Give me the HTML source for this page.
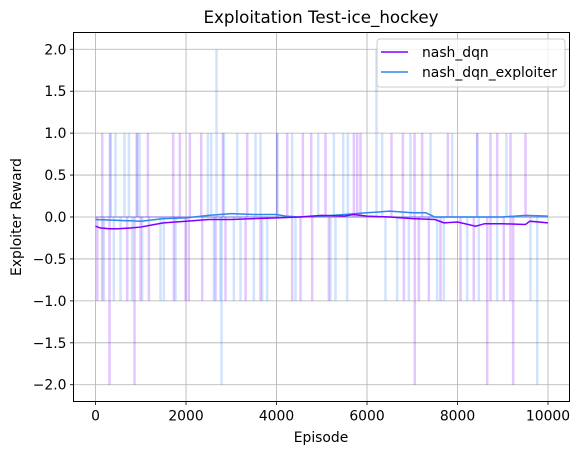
<!DOCTYPE html>
<html><head><meta charset="utf-8"><style>
body{margin:0;background:#fff;}
svg text{font-family:"DejaVu Sans","Liberation Sans",sans-serif;fill:#000;}
</style></head><body>
<svg id="chart" width="579" height="455" viewBox="0 0 579 455" xmlns="http://www.w3.org/2000/svg">
<rect width="579" height="455" fill="#fff"/>
<g id="grid"></g>
<g id="raw"></g>
<g id="smooth"></g>
<rect x="73.5" y="32.5" width="496" height="369" fill="none" stroke="#000" stroke-width="1"/>
<g id="ticks"></g>
<text x="321" y="23" font-size="16.7" text-anchor="middle">Exploitation Test-ice_hockey</text>
<text x="321" y="442" font-size="13.9" text-anchor="middle">Episode</text>
<text x="21" y="217" font-size="13.9" text-anchor="middle" transform="rotate(-90 21 217)">Exploiter Reward</text>
<g>
<rect x="377" y="39" width="188" height="48" rx="3" fill="#fff" fill-opacity="0.8" stroke="#ccc"/>
<line x1="381" y1="52" x2="408" y2="52" stroke="#8000ff" stroke-width="1.5"/>
<text x="422" y="57" font-size="13.9">nash_dqn</text>
<line x1="381" y1="72" x2="408" y2="72" stroke="#2f86f0" stroke-width="1.5"/>
<text x="422" y="77" font-size="13.9">nash_dqn_exploiter</text>
</g>
</svg>
<script>
const xTicks=[0,2000,4000,6000,8000,10000];
const yTicks=[-2.0,-1.5,-1.0,-0.5,0.0,0.5,1.0,1.5,2.0];
const dqnSpikeEp=[147,331,921,1157,1716,1864,2085,2335,2814,3352,4015,4236,4582,4766,5083,5709,5783,5856,6541,6792,7050,7219,7786,8435,8729,8877,9171,9503,
 37,147,700,995,1179,1731,1989,2062,2357,2652,2873,3315,3646,4346,4530,4788,5156,6814,7145,7366,7624,8066,8360,8729,9023,9171,
 309,862,7056,8656,9230];
const dqnSpikeVal=[1,1,1,1,1,1,1,1,1,1,1,1,1,1,1,1,1,1,1,1,1,1,1,1,1,1,1,1,
 -1,-1,-1,-1,-1,-1,-1,-1,-1,-1,-1,-1,-1,-1,-1,-1,-1,-1,-1,-1,-1,-1,-1,-1,-1,-1,
 -2,-2,-2,-2,-2];
const expSpikeEp=[317,442,641,737,906,972,2482,2556,2674,2836,3131,3536,3646,4015,4346,4921,5267,5473,5576,6210,6335,6961,7403,7882,8435,9083,
 184,405,552,810,1031,1436,1510,1768,2615,2762,3057,3204,3499,3683,3793,4419,5193,5303,5561,6408,6666,6924,7550,7697,8213,8471,8876,9613,
 2785,9761];
const expSpikeVal=[1,1,1,1,1,1,1,1,2,1,1,1,1,1,1,1,1,1,1,2,1,1,1,1,1,1,
 -1,-1,-1,-1,-1,-1,-1,-1,-1,-1,-1,-1,-1,-1,-1,-1,-1,-1,-1,-1,-1,-1,-1,-1,-1,-1,-1,-1,
 -2,-2];
const dqnSmoothEp=[0,100,300,500,800,1000,1300,1500,2000,2500,3000,3500,4000,4500,5000,5500,5700,6000,6500,7000,7500,7700,8000,8400,8600,9000,9500,9600,10000];
const dqnSmoothVal=[-0.11,-0.13,-0.14,-0.14,-0.13,-0.12,-0.09,-0.07,-0.05,-0.03,-0.03,-0.02,-0.01,0.0,0.02,0.01,0.03,0.01,0.0,-0.02,-0.03,-0.07,-0.06,-0.11,-0.08,-0.08,-0.09,-0.05,-0.07];
const expSmoothEp=[0,500,1000,1500,2000,2500,3000,3500,4000,4200,4500,5000,5500,6000,6500,7000,7300,7500,8000,8500,9000,9500,10000];
const expSmoothVal=[-0.03,-0.04,-0.05,-0.02,-0.01,0.02,0.04,0.03,0.03,0.01,0.0,0.01,0.03,0.05,0.07,0.05,0.05,0.0,0.0,0.0,0.0,0.02,0.01];

const NS='http://www.w3.org/2000/svg';
const X0=73.5,X1=569.5,Y0=32.5,Y1=401.5,xmin=-487,xmax=10475,ymin=-2.2,ymax=2.2;
const sx=v=>X0+(v-xmin)/(xmax-xmin)*(X1-X0);
const sy=v=>Y1-(v-ymin)/(ymax-ymin)*(Y1-Y0);
function mk(tag,attrs,parent){const e=document.createElementNS(NS,tag);for(const k in attrs)e.setAttribute(k,attrs[k]);parent.appendChild(e);return e;}
const grid=document.getElementById('grid'),ticks=document.getElementById('ticks');
xTicks.forEach(t=>{
 const g=mk('line',{x1:sx(t),x2:sx(t),y1:Y0,y2:Y1,stroke:'#b0b0b0','stroke-width':0.8},grid);
 
 
 mk('line',{x1:sx(t),x2:sx(t),y1:Y1,y2:Y1+3.5,stroke:'#000','stroke-width':0.8},ticks);
 const l=mk('text',{x:sx(t),y:Y1+19,'font-size':13.9,'text-anchor':'middle'},ticks);
 l.textContent=t;
 
 
});
yTicks.forEach(t=>{
 const g=mk('line',{x1:X0,x2:X1,y1:sy(t),y2:sy(t),stroke:'#b0b0b0','stroke-width':0.8},grid);
 
 
 mk('line',{x1:X0-3.5,x2:X0,y1:sy(t),y2:sy(t),stroke:'#000','stroke-width':0.8},ticks);
 const l=mk('text',{x:X0-7,y:sy(t)+5,'font-size':13.9,'text-anchor':'end'},ticks);
 l.textContent=t.toFixed(1).replace('-','\u2212');
 
 
});
const raw=document.getElementById('raw');
function spikes(eps,vals,color,name){
 const b=mk('line',{x1:sx(0),x2:sx(10000),y1:sy(0),y2:sy(0),stroke:color,'stroke-opacity':0.2,'stroke-width':1.5},raw);
 
 
 eps.forEach((e,i)=>{
  const s=mk('line',{x1:sx(e),x2:sx(e),y1:sy(0),y2:sy(vals[i]),stroke:color,'stroke-opacity':0.22,'stroke-width':2.5},raw);
  
  
 });
}
spikes(dqnSpikeEp,dqnSpikeVal,'#8000ff','nash-dqn');
spikes(expSpikeEp,expSpikeVal,'#2f86f0','nash-dqn-exploiter');
const sm=document.getElementById('smooth');
function line(eps,vals,color,name){
 const p=mk('polyline',{points:eps.map((e,i)=>sx(e)+','+sy(vals[i])).join(' '),fill:'none',stroke:color,'stroke-width':1.5},sm);
 
 
}
line(expSmoothEp,expSmoothVal,'#2f86f0','nash-dqn-exploiter');
line(dqnSmoothEp,dqnSmoothVal,'#8000ff','nash-dqn');
</script>
</body></html>
